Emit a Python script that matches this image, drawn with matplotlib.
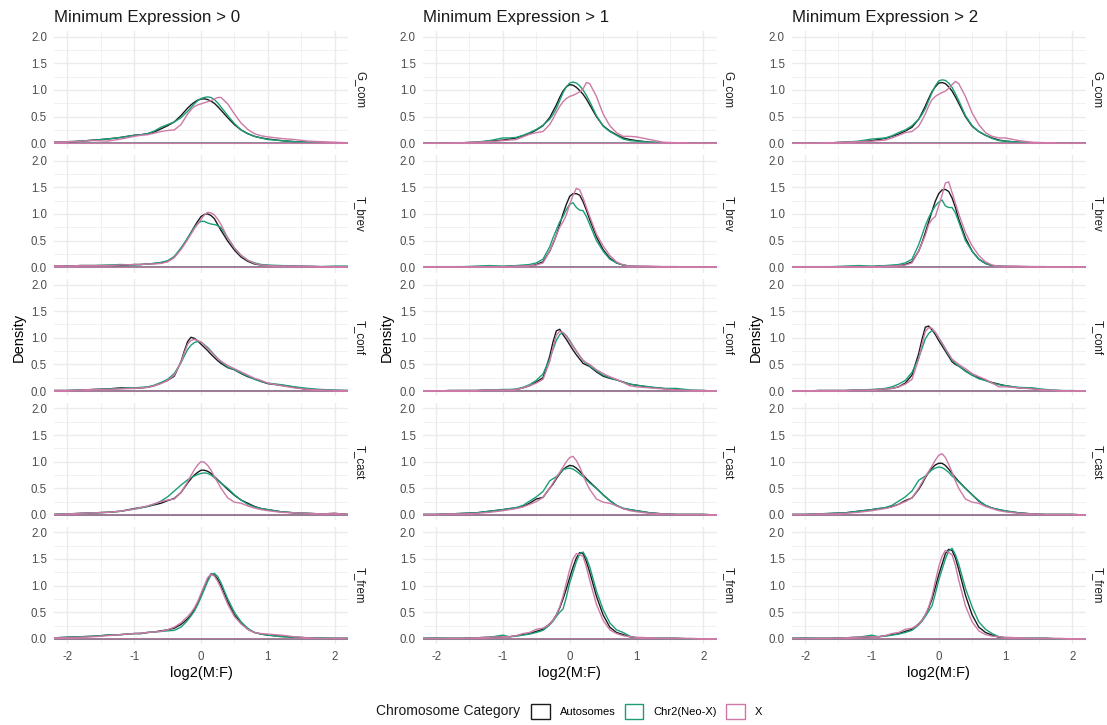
import matplotlib

matplotlib.use("Agg")
import matplotlib.pyplot as plt
from matplotlib.patches import Patch
from matplotlib.ticker import MultipleLocator

# shared evaluation grid for log2(M:F), denser around the mode
x_grid = [-2.2, -2.0, -1.8, -1.6, -1.4, -1.2, -1.0, -0.9, -0.8, -0.7, -0.6, -0.5, -0.4,
          -0.3, -0.25, -0.2, -0.15, -0.1, -0.05, 0.0, 0.05, 0.1, 0.15, 0.2, 0.25, 0.3,
          0.4, 0.5, 0.6, 0.7, 0.8, 0.9, 1.0, 1.2, 1.4, 1.6, 1.8, 2.0, 2.2]

# ---- minimum expression > 0 ----
g_com_0_auto = [0.02, 0.02, 0.04, 0.06, 0.08, 0.11, 0.15, 0.16, 0.18, 0.21, 0.27, 0.33, 0.40, 0.52, 0.59, 0.66, 0.72, 0.77, 0.81, 0.83, 0.835, 0.82, 0.79, 0.75, 0.69, 0.62, 0.48, 0.35, 0.25, 0.18, 0.13, 0.10, 0.08, 0.05, 0.03, 0.02, 0.01, 0.01, 0.01]
g_com_0_neox = [0.02, 0.03, 0.04, 0.06, 0.08, 0.11, 0.15, 0.16, 0.18, 0.23, 0.30, 0.35, 0.40, 0.48, 0.54, 0.60, 0.67, 0.74, 0.80, 0.84, 0.86, 0.87, 0.86, 0.82, 0.76, 0.68, 0.52, 0.37, 0.25, 0.18, 0.13, 0.10, 0.07, 0.05, 0.03, 0.02, 0.01, 0.01, 0.01]
g_com_0_x = [0.02, 0.03, 0.04, 0.05, 0.04, 0.08, 0.13, 0.15, 0.16, 0.19, 0.22, 0.24, 0.25, 0.35, 0.45, 0.55, 0.63, 0.69, 0.72, 0.74, 0.76, 0.78, 0.80, 0.83, 0.86, 0.86, 0.74, 0.55, 0.38, 0.26, 0.18, 0.14, 0.12, 0.09, 0.07, 0.04, 0.03, 0.02, 0.01]

t_brev_0_auto = [0.02, 0.02, 0.03, 0.03, 0.03, 0.03, 0.05, 0.05, 0.06, 0.07, 0.08, 0.11, 0.19, 0.35, 0.44, 0.54, 0.65, 0.76, 0.86, 0.95, 0.99, 1.00, 0.97, 0.91, 0.80, 0.69, 0.49, 0.32, 0.19, 0.11, 0.06, 0.04, 0.03, 0.02, 0.02, 0.01, 0.01, 0.01, 0.01]
t_brev_0_neox = [0.02, 0.02, 0.03, 0.03, 0.04, 0.05, 0.04, 0.05, 0.06, 0.07, 0.09, 0.12, 0.20, 0.36, 0.45, 0.55, 0.65, 0.75, 0.82, 0.86, 0.86, 0.83, 0.81, 0.80, 0.78, 0.74, 0.55, 0.36, 0.22, 0.13, 0.08, 0.05, 0.04, 0.03, 0.02, 0.02, 0.01, 0.02, 0.02]
t_brev_0_x = [0.03, 0.02, 0.03, 0.03, 0.03, 0.04, 0.05, 0.05, 0.06, 0.06, 0.07, 0.10, 0.18, 0.33, 0.42, 0.52, 0.62, 0.72, 0.81, 0.90, 0.98, 1.03, 1.02, 0.98, 0.90, 0.80, 0.55, 0.36, 0.22, 0.13, 0.07, 0.04, 0.03, 0.02, 0.02, 0.02, 0.01, 0.01, 0.01]

t_conf_0_auto = [0.01, 0.01, 0.02, 0.03, 0.04, 0.06, 0.05, 0.06, 0.07, 0.10, 0.15, 0.20, 0.28, 0.55, 0.75, 0.93, 1.01, 0.99, 0.94, 0.88, 0.82, 0.76, 0.69, 0.63, 0.57, 0.52, 0.44, 0.40, 0.33, 0.27, 0.23, 0.18, 0.14, 0.11, 0.07, 0.03, 0.02, 0.01, 0.01]
t_conf_0_neox = [0.01, 0.01, 0.02, 0.03, 0.04, 0.05, 0.06, 0.07, 0.08, 0.11, 0.16, 0.22, 0.33, 0.53, 0.66, 0.78, 0.86, 0.91, 0.93, 0.92, 0.87, 0.82, 0.75, 0.68, 0.61, 0.55, 0.45, 0.40, 0.34, 0.28, 0.22, 0.18, 0.15, 0.12, 0.08, 0.05, 0.03, 0.02, 0.01]
t_conf_0_x = [0.01, 0.01, 0.02, 0.03, 0.03, 0.04, 0.05, 0.06, 0.07, 0.10, 0.14, 0.20, 0.30, 0.54, 0.72, 0.88, 0.95, 0.97, 0.95, 0.92, 0.86, 0.80, 0.73, 0.67, 0.61, 0.56, 0.48, 0.42, 0.36, 0.30, 0.24, 0.20, 0.15, 0.10, 0.06, 0.03, 0.02, 0.01, 0.01]

t_cast_0_auto = [0.01, 0.02, 0.03, 0.04, 0.05, 0.07, 0.12, 0.14, 0.16, 0.19, 0.22, 0.27, 0.31, 0.42, 0.51, 0.60, 0.68, 0.75, 0.80, 0.84, 0.84, 0.82, 0.78, 0.72, 0.66, 0.60, 0.48, 0.37, 0.28, 0.22, 0.16, 0.12, 0.10, 0.06, 0.04, 0.03, 0.02, 0.03, 0.01]
t_cast_0_neox = [0.01, 0.02, 0.03, 0.04, 0.05, 0.07, 0.11, 0.13, 0.16, 0.20, 0.26, 0.34, 0.45, 0.56, 0.61, 0.66, 0.70, 0.73, 0.76, 0.78, 0.79, 0.78, 0.75, 0.70, 0.65, 0.60, 0.50, 0.38, 0.28, 0.20, 0.15, 0.12, 0.10, 0.06, 0.04, 0.03, 0.02, 0.02, 0.01]
t_cast_0_x = [0.01, 0.02, 0.03, 0.04, 0.05, 0.07, 0.11, 0.14, 0.17, 0.21, 0.25, 0.28, 0.30, 0.42, 0.52, 0.62, 0.74, 0.85, 0.94, 1.00, 0.99, 0.93, 0.84, 0.72, 0.61, 0.50, 0.32, 0.24, 0.22, 0.17, 0.13, 0.10, 0.08, 0.05, 0.04, 0.03, 0.02, 0.03, 0.01]

t_frem_0_auto = [0.02, 0.03, 0.04, 0.05, 0.07, 0.08, 0.10, 0.10, 0.12, 0.13, 0.15, 0.17, 0.20, 0.27, 0.32, 0.38, 0.45, 0.55, 0.67, 0.82, 0.97, 1.12, 1.22, 1.20, 1.12, 1.00, 0.70, 0.45, 0.30, 0.18, 0.12, 0.09, 0.07, 0.05, 0.03, 0.02, 0.01, 0.01, 0.01]
t_frem_0_neox = [0.02, 0.03, 0.04, 0.05, 0.07, 0.08, 0.10, 0.10, 0.12, 0.13, 0.14, 0.15, 0.16, 0.22, 0.28, 0.35, 0.43, 0.52, 0.64, 0.78, 0.93, 1.08, 1.20, 1.23, 1.17, 1.05, 0.75, 0.50, 0.32, 0.20, 0.12, 0.09, 0.07, 0.04, 0.03, 0.02, 0.02, 0.01, 0.01]
t_frem_0_x = [0.02, 0.02, 0.03, 0.04, 0.06, 0.08, 0.10, 0.11, 0.12, 0.13, 0.14, 0.17, 0.22, 0.30, 0.36, 0.42, 0.49, 0.58, 0.70, 0.85, 1.00, 1.15, 1.21, 1.18, 1.08, 0.95, 0.65, 0.42, 0.28, 0.18, 0.12, 0.10, 0.09, 0.07, 0.04, 0.02, 0.01, 0.01, 0.01]

# ---- minimum expression > 1 ----
g_com_1_auto = [0.00, 0.00, 0.00, 0.01, 0.02, 0.04, 0.06, 0.08, 0.10, 0.14, 0.18, 0.25, 0.33, 0.48, 0.60, 0.72, 0.86, 0.98, 1.06, 1.10, 1.09, 1.05, 0.99, 0.92, 0.83, 0.72, 0.50, 0.33, 0.23, 0.16, 0.10, 0.07, 0.05, 0.02, 0.01, 0.00, 0.00, 0.00, 0.00]
g_com_1_neox = [0.00, 0.00, 0.00, 0.01, 0.02, 0.05, 0.10, 0.10, 0.11, 0.15, 0.20, 0.26, 0.34, 0.45, 0.54, 0.65, 0.80, 0.95, 1.06, 1.13, 1.15, 1.13, 1.08, 1.00, 0.90, 0.78, 0.52, 0.32, 0.22, 0.15, 0.08, 0.05, 0.04, 0.02, 0.01, 0.00, 0.00, 0.00, 0.00]
g_com_1_x = [0.00, 0.00, 0.00, 0.01, 0.02, 0.03, 0.05, 0.06, 0.07, 0.12, 0.17, 0.20, 0.22, 0.35, 0.46, 0.58, 0.69, 0.78, 0.84, 0.88, 0.90, 0.93, 0.97, 1.02, 1.14, 1.12, 0.88, 0.55, 0.33, 0.20, 0.13, 0.13, 0.12, 0.07, 0.02, 0.01, 0.00, 0.00, 0.00]

t_brev_1_auto = [0.00, 0.00, 0.00, 0.00, 0.01, 0.01, 0.01, 0.02, 0.02, 0.02, 0.02, 0.05, 0.10, 0.30, 0.44, 0.60, 0.80, 1.00, 1.18, 1.33, 1.38, 1.38, 1.35, 1.23, 1.07, 0.89, 0.57, 0.33, 0.17, 0.08, 0.04, 0.02, 0.01, 0.01, 0.00, 0.00, 0.00, 0.00, 0.00]
t_brev_1_neox = [0.01, 0.01, 0.01, 0.01, 0.02, 0.03, 0.02, 0.02, 0.03, 0.04, 0.05, 0.08, 0.15, 0.38, 0.55, 0.70, 0.85, 0.95, 1.08, 1.18, 1.21, 1.12, 1.07, 1.06, 0.95, 0.80, 0.50, 0.30, 0.15, 0.08, 0.04, 0.02, 0.02, 0.01, 0.01, 0.01, 0.00, 0.00, 0.00]
t_brev_1_x = [0.00, 0.00, 0.00, 0.00, 0.01, 0.01, 0.01, 0.01, 0.02, 0.02, 0.03, 0.04, 0.08, 0.30, 0.45, 0.60, 0.75, 0.85, 0.98, 1.18, 1.35, 1.48, 1.45, 1.30, 1.12, 0.95, 0.62, 0.40, 0.22, 0.10, 0.04, 0.02, 0.02, 0.02, 0.01, 0.01, 0.00, 0.00, 0.00]

t_conf_1_auto = [0.00, 0.00, 0.01, 0.01, 0.01, 0.02, 0.02, 0.02, 0.03, 0.06, 0.10, 0.17, 0.25, 0.65, 0.92, 1.13, 1.16, 1.06, 0.97, 0.87, 0.77, 0.68, 0.60, 0.52, 0.49, 0.46, 0.36, 0.28, 0.24, 0.21, 0.17, 0.13, 0.11, 0.07, 0.05, 0.02, 0.01, 0.01, 0.00]
t_conf_1_neox = [0.00, 0.00, 0.01, 0.01, 0.01, 0.02, 0.03, 0.03, 0.04, 0.07, 0.12, 0.20, 0.32, 0.60, 0.78, 0.95, 1.06, 1.10, 1.04, 0.95, 0.85, 0.75, 0.66, 0.57, 0.52, 0.47, 0.38, 0.30, 0.25, 0.21, 0.17, 0.13, 0.11, 0.08, 0.05, 0.05, 0.02, 0.01, 0.00]
t_conf_1_x = [0.00, 0.00, 0.01, 0.01, 0.01, 0.02, 0.02, 0.02, 0.03, 0.06, 0.10, 0.15, 0.22, 0.55, 0.82, 1.05, 1.12, 1.10, 1.03, 0.93, 0.84, 0.75, 0.66, 0.58, 0.53, 0.50, 0.40, 0.33, 0.27, 0.22, 0.16, 0.10, 0.08, 0.06, 0.04, 0.02, 0.01, 0.01, 0.00]

t_cast_1_auto = [0.01, 0.01, 0.02, 0.03, 0.04, 0.07, 0.10, 0.12, 0.13, 0.16, 0.22, 0.30, 0.33, 0.50, 0.58, 0.68, 0.77, 0.85, 0.90, 0.93, 0.92, 0.88, 0.82, 0.75, 0.68, 0.62, 0.50, 0.38, 0.27, 0.18, 0.12, 0.10, 0.08, 0.04, 0.02, 0.01, 0.01, 0.01, 0.00]
t_cast_1_neox = [0.01, 0.01, 0.02, 0.03, 0.04, 0.07, 0.10, 0.12, 0.14, 0.18, 0.26, 0.34, 0.44, 0.64, 0.68, 0.72, 0.78, 0.85, 0.87, 0.88, 0.86, 0.82, 0.77, 0.72, 0.66, 0.60, 0.50, 0.38, 0.27, 0.18, 0.13, 0.10, 0.08, 0.04, 0.02, 0.01, 0.01, 0.01, 0.00]
t_cast_1_x = [0.01, 0.01, 0.02, 0.02, 0.03, 0.05, 0.08, 0.10, 0.12, 0.15, 0.20, 0.25, 0.33, 0.50, 0.60, 0.70, 0.80, 0.90, 1.00, 1.08, 1.10, 1.02, 0.90, 0.75, 0.60, 0.48, 0.30, 0.24, 0.22, 0.17, 0.12, 0.08, 0.06, 0.03, 0.02, 0.01, 0.01, 0.01, 0.00]

t_frem_1_auto = [0.01, 0.01, 0.01, 0.01, 0.02, 0.03, 0.04, 0.04, 0.06, 0.08, 0.10, 0.14, 0.18, 0.28, 0.35, 0.45, 0.58, 0.75, 0.94, 1.15, 1.35, 1.52, 1.62, 1.60, 1.45, 1.25, 0.80, 0.45, 0.22, 0.12, 0.08, 0.04, 0.02, 0.01, 0.01, 0.01, 0.00, 0.00, 0.00]
t_frem_1_neox = [0.01, 0.02, 0.01, 0.01, 0.02, 0.03, 0.07, 0.04, 0.05, 0.07, 0.09, 0.12, 0.16, 0.26, 0.33, 0.42, 0.50, 0.56, 0.78, 1.05, 1.25, 1.45, 1.60, 1.63, 1.52, 1.35, 0.90, 0.55, 0.30, 0.17, 0.12, 0.05, 0.02, 0.01, 0.01, 0.01, 0.00, 0.00, 0.00]
t_frem_1_x = [0.01, 0.01, 0.01, 0.01, 0.02, 0.03, 0.04, 0.04, 0.06, 0.10, 0.12, 0.18, 0.20, 0.27, 0.35, 0.45, 0.60, 0.80, 1.05, 1.30, 1.50, 1.60, 1.58, 1.55, 1.35, 1.10, 0.65, 0.35, 0.17, 0.10, 0.06, 0.04, 0.03, 0.02, 0.01, 0.01, 0.01, 0.00, 0.00]

# ---- minimum expression > 2 ----
g_com_2_auto = [0.00, 0.00, 0.00, 0.01, 0.02, 0.03, 0.05, 0.07, 0.09, 0.13, 0.17, 0.23, 0.30, 0.45, 0.57, 0.70, 0.84, 0.97, 1.06, 1.13, 1.14, 1.12, 1.06, 0.98, 0.87, 0.75, 0.50, 0.32, 0.22, 0.15, 0.10, 0.06, 0.04, 0.02, 0.01, 0.00, 0.00, 0.00, 0.00]
g_com_2_neox = [0.00, 0.00, 0.00, 0.01, 0.02, 0.04, 0.08, 0.09, 0.10, 0.14, 0.20, 0.25, 0.33, 0.45, 0.54, 0.65, 0.80, 0.95, 1.08, 1.17, 1.19, 1.18, 1.13, 1.05, 0.93, 0.80, 0.52, 0.33, 0.22, 0.15, 0.09, 0.05, 0.04, 0.02, 0.01, 0.00, 0.00, 0.00, 0.00]
g_com_2_x = [0.00, 0.00, 0.00, 0.01, 0.02, 0.03, 0.04, 0.05, 0.06, 0.10, 0.15, 0.20, 0.22, 0.32, 0.43, 0.55, 0.70, 0.82, 0.88, 0.92, 0.95, 0.98, 1.03, 1.10, 1.16, 1.12, 0.88, 0.57, 0.35, 0.20, 0.13, 0.10, 0.10, 0.05, 0.02, 0.01, 0.00, 0.00, 0.00]

t_brev_2_auto = [0.00, 0.00, 0.00, 0.00, 0.01, 0.01, 0.01, 0.02, 0.02, 0.02, 0.03, 0.05, 0.10, 0.30, 0.46, 0.65, 0.85, 1.05, 1.24, 1.38, 1.45, 1.46, 1.42, 1.30, 1.12, 0.90, 0.55, 0.30, 0.15, 0.07, 0.03, 0.02, 0.01, 0.01, 0.00, 0.00, 0.00, 0.00, 0.00]
t_brev_2_neox = [0.01, 0.01, 0.01, 0.01, 0.02, 0.03, 0.02, 0.02, 0.03, 0.04, 0.05, 0.08, 0.15, 0.42, 0.60, 0.78, 0.93, 1.05, 1.15, 1.22, 1.26, 1.15, 1.12, 1.12, 1.02, 0.85, 0.50, 0.30, 0.15, 0.07, 0.03, 0.02, 0.02, 0.01, 0.01, 0.01, 0.00, 0.00, 0.00]
t_brev_2_x = [0.00, 0.00, 0.00, 0.00, 0.01, 0.01, 0.01, 0.01, 0.02, 0.02, 0.03, 0.04, 0.08, 0.30, 0.45, 0.60, 0.80, 0.90, 0.95, 1.15, 1.35, 1.58, 1.60, 1.40, 1.20, 1.00, 0.65, 0.40, 0.22, 0.10, 0.04, 0.02, 0.02, 0.02, 0.01, 0.01, 0.00, 0.00, 0.00]

t_conf_2_auto = [0.00, 0.00, 0.01, 0.01, 0.01, 0.02, 0.02, 0.03, 0.04, 0.05, 0.08, 0.15, 0.30, 0.70, 0.97, 1.20, 1.22, 1.15, 1.06, 0.95, 0.85, 0.75, 0.65, 0.55, 0.50, 0.47, 0.38, 0.30, 0.25, 0.20, 0.16, 0.13, 0.10, 0.06, 0.05, 0.01, 0.01, 0.00, 0.00]
t_conf_2_neox = [0.00, 0.00, 0.01, 0.01, 0.01, 0.02, 0.03, 0.04, 0.05, 0.08, 0.13, 0.20, 0.35, 0.62, 0.80, 0.98, 1.08, 1.14, 1.10, 1.00, 0.90, 0.78, 0.68, 0.58, 0.52, 0.47, 0.37, 0.30, 0.23, 0.20, 0.15, 0.12, 0.10, 0.07, 0.06, 0.03, 0.01, 0.01, 0.00]
t_conf_2_x = [0.00, 0.00, 0.01, 0.01, 0.01, 0.02, 0.02, 0.03, 0.04, 0.05, 0.08, 0.13, 0.22, 0.60, 0.88, 1.12, 1.19, 1.18, 1.10, 1.00, 0.90, 0.80, 0.70, 0.60, 0.55, 0.50, 0.42, 0.33, 0.27, 0.22, 0.15, 0.08, 0.08, 0.06, 0.04, 0.02, 0.01, 0.00, 0.00]

t_cast_2_auto = [0.01, 0.01, 0.02, 0.03, 0.04, 0.07, 0.10, 0.12, 0.13, 0.16, 0.20, 0.27, 0.32, 0.48, 0.58, 0.70, 0.80, 0.88, 0.94, 0.97, 0.97, 0.93, 0.86, 0.78, 0.70, 0.63, 0.50, 0.38, 0.26, 0.18, 0.13, 0.10, 0.07, 0.04, 0.02, 0.01, 0.01, 0.01, 0.00]
t_cast_2_neox = [0.01, 0.01, 0.02, 0.03, 0.04, 0.07, 0.10, 0.12, 0.14, 0.18, 0.26, 0.34, 0.45, 0.65, 0.69, 0.73, 0.79, 0.85, 0.88, 0.90, 0.89, 0.85, 0.80, 0.73, 0.68, 0.62, 0.50, 0.38, 0.27, 0.18, 0.13, 0.10, 0.08, 0.04, 0.02, 0.01, 0.01, 0.01, 0.00]
t_cast_2_x = [0.01, 0.01, 0.02, 0.02, 0.03, 0.05, 0.08, 0.10, 0.12, 0.15, 0.20, 0.25, 0.32, 0.50, 0.61, 0.72, 0.82, 0.92, 1.03, 1.12, 1.15, 1.08, 0.95, 0.80, 0.64, 0.50, 0.30, 0.24, 0.22, 0.16, 0.12, 0.08, 0.06, 0.03, 0.02, 0.01, 0.01, 0.01, 0.00]

t_frem_2_auto = [0.01, 0.01, 0.01, 0.01, 0.02, 0.03, 0.04, 0.04, 0.06, 0.08, 0.10, 0.14, 0.18, 0.28, 0.35, 0.45, 0.58, 0.75, 0.97, 1.20, 1.40, 1.60, 1.68, 1.66, 1.52, 1.30, 0.82, 0.45, 0.22, 0.12, 0.07, 0.03, 0.02, 0.01, 0.01, 0.01, 0.00, 0.00, 0.00]
t_frem_2_neox = [0.01, 0.02, 0.01, 0.01, 0.02, 0.03, 0.07, 0.04, 0.05, 0.07, 0.09, 0.12, 0.16, 0.26, 0.33, 0.42, 0.52, 0.62, 0.85, 1.10, 1.30, 1.50, 1.65, 1.70, 1.58, 1.40, 0.95, 0.60, 0.32, 0.18, 0.10, 0.04, 0.02, 0.01, 0.01, 0.01, 0.00, 0.00, 0.00]
t_frem_2_x = [0.01, 0.01, 0.01, 0.01, 0.02, 0.03, 0.04, 0.04, 0.06, 0.10, 0.12, 0.18, 0.20, 0.27, 0.35, 0.45, 0.60, 0.80, 1.08, 1.35, 1.55, 1.66, 1.62, 1.58, 1.38, 1.10, 0.62, 0.32, 0.15, 0.08, 0.05, 0.04, 0.03, 0.02, 0.01, 0.01, 0.01, 0.00, 0.00]

species = ["G_com", "T_brev", "T_conf", "T_cast", "T_frem"]
thresholds = [0, 1, 2]
categories = ["Autosomes", "Chr2(Neo-X)", "X"]
colours = ["#1a1a1a", "#1B9E77", "#CC79A7"]

curves = {
    ("G_com", 0): (g_com_0_auto, g_com_0_neox, g_com_0_x),
    ("T_brev", 0): (t_brev_0_auto, t_brev_0_neox, t_brev_0_x),
    ("T_conf", 0): (t_conf_0_auto, t_conf_0_neox, t_conf_0_x),
    ("T_cast", 0): (t_cast_0_auto, t_cast_0_neox, t_cast_0_x),
    ("T_frem", 0): (t_frem_0_auto, t_frem_0_neox, t_frem_0_x),
    ("G_com", 1): (g_com_1_auto, g_com_1_neox, g_com_1_x),
    ("T_brev", 1): (t_brev_1_auto, t_brev_1_neox, t_brev_1_x),
    ("T_conf", 1): (t_conf_1_auto, t_conf_1_neox, t_conf_1_x),
    ("T_cast", 1): (t_cast_1_auto, t_cast_1_neox, t_cast_1_x),
    ("T_frem", 1): (t_frem_1_auto, t_frem_1_neox, t_frem_1_x),
    ("G_com", 2): (g_com_2_auto, g_com_2_neox, g_com_2_x),
    ("T_brev", 2): (t_brev_2_auto, t_brev_2_neox, t_brev_2_x),
    ("T_conf", 2): (t_conf_2_auto, t_conf_2_neox, t_conf_2_x),
    ("T_cast", 2): (t_cast_2_auto, t_cast_2_neox, t_cast_2_x),
    ("T_frem", 2): (t_frem_2_auto, t_frem_2_neox, t_frem_2_x),
}

plt.rcParams["font.family"] = ["Liberation Sans", "DejaVu Sans"]
plt.rcParams["axes.unicode_minus"] = False

W, H = 1107, 725
fig = plt.figure(figsize=(W / 100, H / 100), dpi=100)

# panel geometry in pixels
col_left = [54, 422.7, 791.7]
panel_w = 294
row_top0, row_step, panel_h = 31.4, 123.9, 117.2
grid_c = "#EBEBEB"
tick_c = "#4D4D4D"


def px_rect(left, top, w, h):
    return [left / W, 1 - (top + h) / H, w / W, h / H]


for c, thr in enumerate(thresholds):
    for r, sp in enumerate(species):
        top = row_top0 + r * row_step
        ax = fig.add_axes(px_rect(col_left[c], top, panel_w, panel_h))
        for vals, colour in zip(curves[(sp, thr)], colours):
            # closed density outline: curve plus its baseline
            xs = x_grid + [x_grid[-1], x_grid[0]]
            ys = vals + [0.0, 0.0]
            ax.fill(xs, ys, fill=False, edgecolor=colour, lw=1.0, joinstyle="round")
        ax.set_xlim(-2.2, 2.2)
        ax.set_ylim(-0.1, 2.1)
        ax.xaxis.set_major_locator(MultipleLocator(1))
        ax.xaxis.set_minor_locator(MultipleLocator(0.5))
        ax.yaxis.set_major_locator(MultipleLocator(0.5))
        ax.yaxis.set_minor_locator(MultipleLocator(0.25))
        ax.grid(which="major", color=grid_c, lw=1.0)
        ax.grid(which="minor", color=grid_c, lw=0.5)
        ax.set_axisbelow(True)
        for s in ax.spines.values():
            s.set_visible(False)
        ax.tick_params(which="both", length=0, labelsize=8.3, labelcolor=tick_c, pad=5)
        ax.set_yticks([0, 0.5, 1.0, 1.5, 2.0])
        ax.set_yticklabels(["0.0", "0.5", "1.0", "1.5", "2.0"])
        if r == len(species) - 1:
            ax.set_xticks([-2, -1, 0, 1, 2])
            ax.set_xticklabels(["-2", "-1", "0", "1", "2"])
            ax.set_xlabel("log2(M:F)", fontsize=10.5, labelpad=2)
        else:
            ax.tick_params(axis="x", labelbottom=False)
        if r == 0:
            ax.set_title(f"Minimum Expression > {thr}", loc="left", fontsize=12.2,
                         pad=7, color="#1a1a1a")
        if r == 2:
            ax.set_ylabel("Density", fontsize=10.5, labelpad=4)
        ax.text(1 + 12 / panel_w, 0.5, sp, rotation=270, transform=ax.transAxes,
                ha="center", va="center", fontsize=8.3, color="#1a1a1a")

# legend along the bottom, title to the left of the keys
fig.text(376 / W, 1 - 711 / H, "Chromosome Category", fontsize=10, ha="left",
         va="center", color="#1a1a1a")
handles = [Patch(facecolor="white", edgecolor=col, lw=1.0) for col in colours]
fig.legend(handles, categories, loc="center left", bbox_to_anchor=(531 / W, 1 - 711 / H),
           ncol=3, frameon=False, fontsize=8, handlelength=1.7, handleheight=1.7,
           handletextpad=0.9, columnspacing=0.8, borderpad=0, borderaxespad=0)

fig.savefig("out.png", dpi=100, facecolor="white")
